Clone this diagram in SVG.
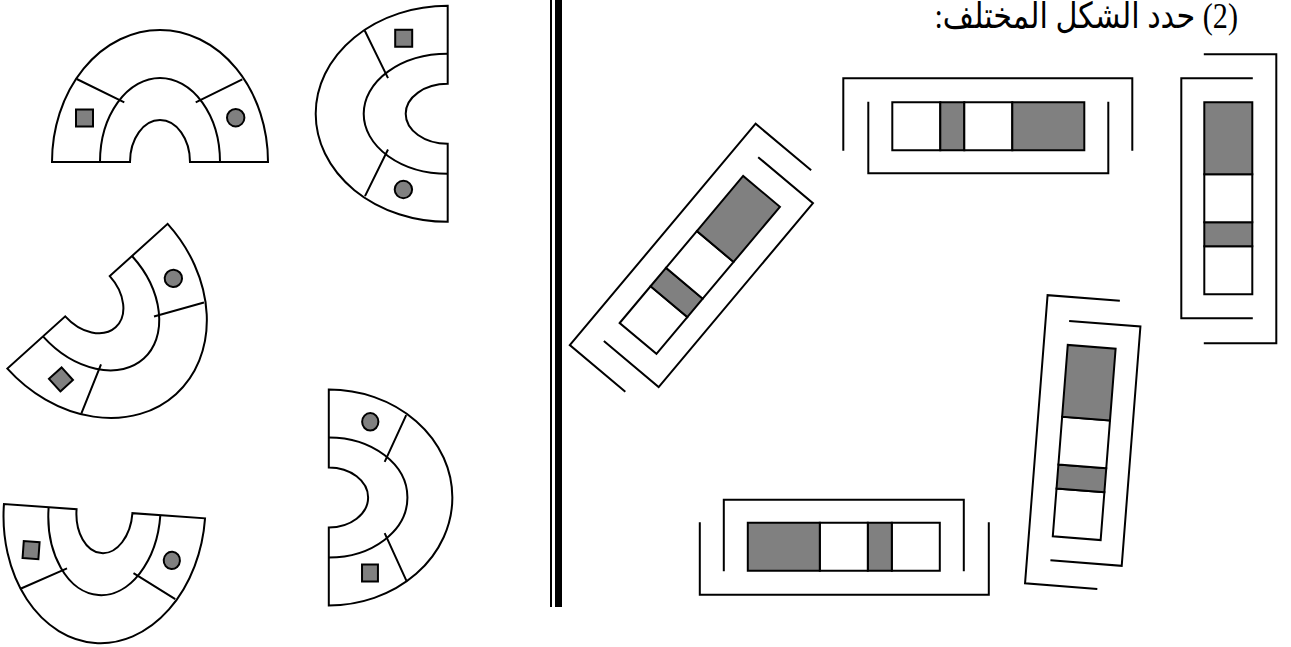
<svg xmlns="http://www.w3.org/2000/svg" xmlns:xlink="http://www.w3.org/1999/xlink" width="1291" height="647" viewBox="0 0 1291 647">
<style>
.ln{fill:none;stroke:#000;stroke-width:2;vector-effect:non-scaling-stroke}
.wf{fill:#fff;stroke:#000;stroke-width:2;vector-effect:non-scaling-stroke}
.gf{fill:#808080;stroke:#000;stroke-width:2;vector-effect:non-scaling-stroke}
.title{font-family:"Liberation Serif","DejaVu Sans",serif;font-size:36px;fill:#000}
</style>
<defs>
<g id="arch">
<path class="wf" d="M -108,0 A 108,132 0 0 1 108,0 L 30,0 A 30,42 0 0 0 -30,0 Z"/>
<path class="ln" d="M -60,0 A 60,84 0 0 1 60,0"/>
<path class="ln" d="M -83.3,-83 L -35.7,-59.7 M 82.3,-82.7 L 35.7,-59.7"/>
<rect class="gf" x="-84" y="-52.5" width="17" height="17"/>
<circle class="gf" cx="75.7" cy="-44.3" r="8.7"/>
</g>
<g id="bars">
<polyline class="ln" points="-145,24.5 -145,-48 144,-48 144,24.5"/>
<polyline class="ln" points="-120,-24.5 -120,47 120,47 120,-24.5"/>
<rect class="wf" x="-96" y="-24" width="48" height="48"/>
<rect class="gf" x="-48" y="-24" width="24" height="48"/>
<rect class="wf" x="-24" y="-24" width="48" height="48"/>
<rect class="gf" x="24" y="-24" width="72" height="48"/>
</g>
</defs>
<g id="shape1"><use xlink:href="#arch" transform="matrix(1 0 0 1 160 162)"/></g>
<g id="shape2"><use xlink:href="#arch" transform="matrix(0 1 1 0 447.7 113.8)"/></g>
<g id="shape3"><use xlink:href="#arch" transform="matrix(0.742 -0.670 -0.670 -0.742 87.5 296.2)"/></g>
<g id="shape4"><use xlink:href="#arch" transform="matrix(0.931 0.066 0.071 -0.998 104.5 511.2)"/></g>
<g id="shape5"><use xlink:href="#arch" transform="matrix(0 -1 -0.936 0 328.8 497.5)"/></g>
<g id="divider">
<rect x="550" y="0" width="2" height="607" fill="#000"/>
<rect x="555" y="0" width="7" height="607" fill="#000"/>
</g>
<g id="title"><text class="title" transform="translate(1238 28) scale(0.84 1)" x="0" y="0" direction="rtl" text-anchor="start">(2) حدد الشكل المختلف:</text></g>
<g id="barA"><use xlink:href="#bars" transform="matrix(1 0 0 1 988.3 126.2)"/></g>
<g id="barB"><use xlink:href="#bars" transform="matrix(0 -1 -1 0 1228.3 198.3)"/></g>
<g id="barC"><use xlink:href="#bars" transform="matrix(0.643 -0.766 0.766 0.643 699.8 264.9)"/></g>
<g id="barD"><use xlink:href="#bars" transform="matrix(0.078 -0.997 0.997 0.078 1084.2 442.5)"/></g>
<g id="barE"><use xlink:href="#bars" transform="matrix(-1 0 0 -1 843.8 546.8)"/></g>
</svg>
